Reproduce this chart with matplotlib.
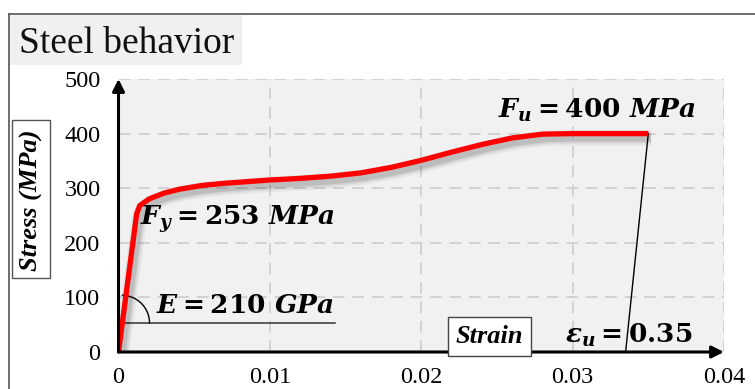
import matplotlib
matplotlib.use("Agg")
import numpy as np
import matplotlib.pyplot as plt
import matplotlib.patheffects as pe
from matplotlib.patches import Rectangle
from matplotlib.lines import Line2D

# Stress-strain curve of steel
strain = [0.0, 0.0012, 0.0014, 0.0020, 0.0030, 0.0040, 0.0055, 0.0070, 0.0085,
          0.0100, 0.0120, 0.0140, 0.0160, 0.0180, 0.0200, 0.0220, 0.0240,
          0.0260, 0.0280, 0.0300, 0.0325, 0.0350]
stress = [0, 253, 268, 280, 291, 298, 305, 309, 312,
          315, 318, 322, 328, 338, 351, 366, 380,
          392, 399, 400, 400, 400]

x_ticks = [0, 0.01, 0.02, 0.03, 0.04]
x_tick_labels = ["0", "0.01", "0.02", "0.03", "0.04"]
y_ticks = [0, 100, 200, 300, 400, 500]
y_tick_labels = ["0", "100", "200", "300", "400", "500"]

fy_label = r"$F_y = 253\ MPa$"
fu_label = r"$F_u = 400\ MPa$"
e_label = r"$E = 210\ GPa$"
eu_label = r"$\varepsilon_u = 0.35$"

plt.rcParams["mathtext.fontset"] = "custom"
plt.rcParams["mathtext.rm"] = "DejaVu Serif:bold"
plt.rcParams["mathtext.bf"] = "DejaVu Serif:bold"
plt.rcParams["mathtext.it"] = "DejaVu Serif:italic:bold"
plt.rcParams["font.family"] = "Liberation Serif"

W, H = 755, 389
fig = plt.figure(figsize=(W / 100, H / 100), dpi=100)

# outer frame (top and left edges)
fig.add_artist(Line2D([9 / W, 1.0], [1 - 14 / H, 1 - 14 / H], transform=fig.transFigure,
                      color="#555555", lw=1.2))
fig.add_artist(Line2D([9 / W, 9 / W], [0.0, 1 - 14 / H], transform=fig.transFigure,
                      color="#555555", lw=1.2))

# title block
fig.add_artist(Rectangle((10 / W, 1 - 65 / H), 232 / W, 50 / H, transform=fig.transFigure,
                         facecolor="#f0f0f0", edgecolor="none"))
fig.text(19 / W, 1 - 53 / H, "Steel behavior", fontsize=27, color="#111111",
         ha="left", va="baseline")

# stress label in a box
fig.add_artist(Rectangle((12 / W, 1 - 278 / H), 38 / W, 158 / H, transform=fig.transFigure,
                         facecolor="white", edgecolor="#555555", lw=1.0))
fig.text(31 / W, 1 - 200 / H, "Stress (MPa)", rotation=90, fontsize=19,
         fontweight="bold", fontstyle="italic", ha="center", va="center")

ax = fig.add_axes([118.5 / W, 37 / H, (724 - 118.5) / W, (352 - 79) / H])
ax.set_facecolor("#f1f1f1")
ax.set_xlim(0, 0.04)
ax.set_ylim(0, 500)
for s in ax.spines.values():
    s.set_visible(False)
ax.set_xticks(x_ticks)
ax.set_xticklabels(x_tick_labels)
ax.set_yticks(y_ticks)
ax.set_yticklabels(y_tick_labels)
ax.tick_params(length=0, labelsize=17.5, pad=13)
ax.tick_params(axis="x", pad=11)

grid_kw = dict(color="#d2d2d2", lw=1.4, dashes=(6, 4), zorder=1)
for xv in x_ticks[1:]:
    ax.axvline(xv, **grid_kw)
for yv in y_ticks[1:]:
    ax.axhline(yv, **grid_kw)

# axis arrows
arrow_kw = dict(arrowstyle="-|>", color="black", lw=2.2, mutation_scale=18,
                shrinkA=0, shrinkB=0)
ax.annotate("", xy=(0.04, 0), xytext=(0, 0), arrowprops=arrow_kw, zorder=6,
            annotation_clip=False)
ax.annotate("", xy=(0, 500), xytext=(0, 0), arrowprops=arrow_kw, zorder=6,
            annotation_clip=False)

# curve with soft shadow
shadow = [pe.SimpleLineShadow(offset=(2.0, -3.0), shadow_color="black", alpha=a, linewidth=w)
          for a, w in [(0.05, 11), (0.07, 8), (0.10, 5.5)]]
ax.plot(strain, stress, color="#ff0000", lw=3.8, solid_capstyle="butt",
        solid_joinstyle="round", zorder=5,
        path_effects=shadow + [pe.Normal()])

# modulus marker: base line and angle arc
ax.plot([0.0004, 0.0143], [53, 53], color="#333333", lw=1.1, zorder=4)
t = np.linspace(0, np.radians(88), 40)
ax.plot(0.0002 + 0.00185 * np.cos(t), 53 + 51 * np.sin(t), color="black", lw=1.0, zorder=4.5)
ax.text(0.00245, 71, e_label, fontsize=19, ha="left", va="baseline", zorder=7)

ax.text(0.00142, 233, fy_label, fontsize=19, ha="left", va="baseline", zorder=7)
ax.text(0.0251, 429, fu_label, fontsize=19, ha="left", va="baseline", zorder=7)

# ultimate strain leader
ax.plot([strain[-1], 0.0335], [stress[-1], 0], color="black", lw=1.0, zorder=4)
ax.text(0.0295, 16.5, eu_label, fontsize=19, ha="left", va="baseline", zorder=7)

ax.text(0.02452, 29, "Strain", fontsize=19, fontweight="bold", fontstyle="italic",
        ha="center", va="center", zorder=8,
        bbox=dict(boxstyle="square,pad=0.3", facecolor="white", edgecolor="#444444", lw=1.0))

fig.savefig("out.png", dpi=100)
